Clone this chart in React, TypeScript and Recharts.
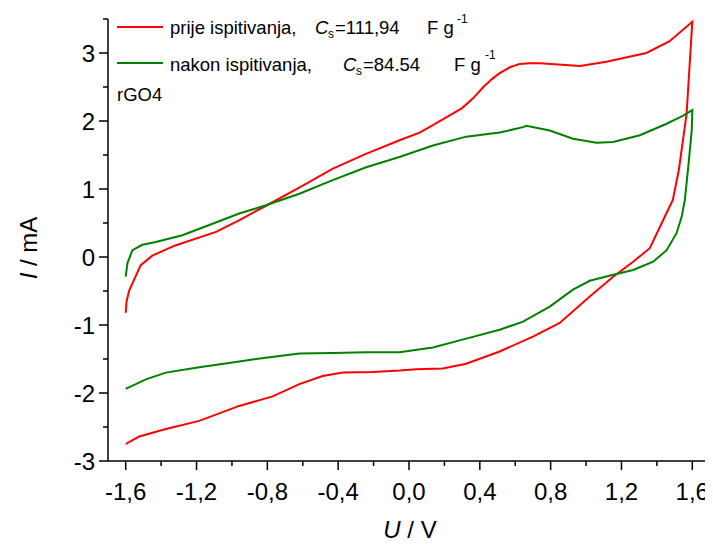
import { LineChart, Line, XAxis, YAxis, Label } from "recharts";

const redU = [
  -1.6, -1.595, -1.58, -1.515, -1.45, -1.32, -1.09, -0.96, -0.81, -0.62, -0.43, -0.24, -0.05, 0.06, 0.135,
  0.3, 0.36, 0.42, 0.47, 0.51, 0.57, 0.625, 0.68, 0.74, 0.965, 1.115, 1.34, 1.47, 1.6,
  1.568, 1.524, 1.49, 1.435, 1.36, 1.266, 1.153, 1.021, 0.851, 0.7, 0.512, 0.323, 0.191, 0.04, -0.054,
  -0.205, -0.374, -0.488, -0.619, -0.77, -0.959, -1.185, -1.373, -1.524, -1.6,
];
const redI = [
  -0.82, -0.65, -0.49, -0.12, 0.02, 0.17, 0.37, 0.54, 0.75, 1.02, 1.3, 1.52, 1.72, 1.83, 1.94,
  2.19, 2.33, 2.5, 2.62, 2.7, 2.79, 2.84, 2.85, 2.85, 2.81, 2.87, 3.0, 3.17, 3.46,
  2.11, 1.28, 0.84, 0.54, 0.13, -0.07, -0.29, -0.58, -0.97, -1.17, -1.39, -1.57, -1.64, -1.65, -1.67,
  -1.69, -1.7, -1.75, -1.87, -2.05, -2.19, -2.41, -2.53, -2.64, -2.75,
];
const greenU = [
  -1.6, -1.59, -1.562, -1.506, -1.43, -1.28, -1.128, -0.959, -0.808, -0.619, -0.431, -0.242, -0.054, 0.135,
  0.323, 0.512, 0.644, 0.663, 0.795, 0.926, 1.059, 1.153, 1.304, 1.455, 1.549, 1.6,
  1.597, 1.58, 1.558, 1.54, 1.511, 1.455, 1.379, 1.266, 1.153, 1.021, 0.926, 0.795, 0.644, 0.512, 0.323,
  0.135, -0.054, -0.242, -0.431, -0.619, -0.808, -0.997, -1.185, -1.373, -1.486, -1.6,
];
const greenI = [
  -0.29, -0.09, 0.1, 0.18, 0.22, 0.32, 0.47, 0.64, 0.76, 0.93, 1.13, 1.32, 1.47, 1.64,
  1.77, 1.83, 1.91, 1.93, 1.86, 1.74, 1.68, 1.69, 1.79, 1.96, 2.08, 2.16,
  1.87, 1.4, 0.84, 0.59, 0.35, 0.1, -0.07, -0.19, -0.26, -0.35, -0.48, -0.73, -0.95, -1.07, -1.2,
  -1.33, -1.4, -1.4, -1.41, -1.42, -1.48, -1.55, -1.62, -1.7, -1.8, -1.94,
];

const xMajor = [-1.6, -1.2, -0.8, -0.4, 0, 0.4, 0.8, 1.2, 1.6];
const xMinor = [-1.4, -1.0, -0.6, -0.2, 0.2, 0.6, 1.0, 1.4];
const yMajor = [-3, -2, -1, 0, 1, 2, 3];
const yMinor = [-2.5, -1.5, -0.5, 0.5, 1.5, 2.5, 3.5];

const redData = redU.map((u, i) => ({ u, i: redI[i] }));
const greenData = greenU.map((u, i) => ({ u, i: greenI[i] }));

const FONT = "Arial, 'Liberation Sans', sans-serif";
const RED = "#ff0000";
const GREEN = "#008000";

const isMajor = (list: number[], v: number) => list.some((m) => Math.abs(m - v) < 1e-6);

const XTick = (props: any) => {
  const { x, y, payload } = props;
  const major = isMajor(xMajor, payload.value);
  return (
    <g>
      <line x1={x} x2={x} y1={y} y2={y + (major ? 9 : 5)} stroke="#000" strokeWidth={1.5} />
      {major && (
        <text x={x} y={y + 39} textAnchor="middle" fontSize={24} fontFamily={FONT} fill="#000">
          {payload.value.toFixed(1).replace(".", ",")}
        </text>
      )}
    </g>
  );
};

const YTick = (props: any) => {
  const { x, y, payload } = props;
  const major = isMajor(yMajor, payload.value);
  return (
    <g>
      <line x1={x} x2={x - (major ? 9 : 5)} y1={y} y2={y} stroke="#000" strokeWidth={1.5} />
      {major && (
        <text x={x - 13} y={y + 8.5} textAnchor="end" fontSize={24} fontFamily={FONT} fill="#000">
          {payload.value}
        </text>
      )}
    </g>
  );
};

export default function App() {
  return (
    <div style={{ position: "relative", width: 705, height: 536 }}>
      <LineChart width={705} height={536} margin={{ top: 11, right: 3, left: 0, bottom: 0 }}>
        <XAxis
          type="number"
          dataKey="u"
          domain={[-1.7, 1.7]}
          ticks={[...xMajor, ...xMinor].sort((a, b) => a - b)}
          tick={XTick}
          tickLine={false}
          tickSize={0}
          tickMargin={0}
          height={83}
          axisLine={{ stroke: "#000", strokeWidth: 1.5 }}
          allowDataOverflow
        >
          <Label
            content={({ viewBox }: any) => (
              <text
                x={viewBox.x + viewBox.width / 2 + 1}
                y={viewBox.y + 77}
                textAnchor="middle"
                fontSize={24}
                fontFamily={FONT}
                fill="#000"
              >
                <tspan fontStyle="italic">U</tspan>
                <tspan> / V</tspan>
              </text>
            )}
          />
        </XAxis>
        <YAxis
          type="number"
          dataKey="i"
          domain={[-3, 3.5]}
          ticks={[...yMajor, ...yMinor].sort((a, b) => a - b)}
          tick={YTick}
          tickLine={false}
          tickSize={0}
          tickMargin={0}
          width={100}
          axisLine={{ stroke: "#000", strokeWidth: 1.5 }}
          allowDataOverflow
        >
          <Label
            content={({ viewBox }: any) => {
              const cx = 20;
              const cy = viewBox.y + viewBox.height / 2 + 8;
              return (
                <text
                  x={cx}
                  y={cy}
                  transform={`rotate(-90 ${cx} ${cy})`}
                  textAnchor="middle"
                  dominantBaseline="central"
                  fontSize={24}
                  fontFamily={FONT}
                  fill="#000"
                >
                  <tspan fontStyle="italic">I</tspan>
                  <tspan> / mA</tspan>
                </text>
              );
            }}
          />
        </YAxis>
        <Line
          data={redData}
          dataKey="i"
          type="linear"
          stroke={RED}
          strokeWidth={2}
          dot={false}
          isAnimationActive={false}
        />
        <Line
          data={greenData}
          dataKey="i"
          type="linear"
          stroke={GREEN}
          strokeWidth={2}
          dot={false}
          isAnimationActive={false}
        />
      </LineChart>
      <svg
        width={705}
        height={536}
        style={{ position: "absolute", left: 0, top: 0, pointerEvents: "none" }}
        fontFamily={FONT}
        fill="#000"
      >
        <line x1={109} x2={155} y1={19} y2={19} stroke={RED} strokeWidth={2} />
        <text x={162} y={26} fontSize={18.5}>prije ispitivanja,</text>
        <text x={307} y={26} fontSize={18.5} fontStyle="italic">C</text>
        <text x={320} y={30} fontSize={12}>s</text>
        <text x={327} y={26} fontSize={18.5}>=111,94</text>
        <text x={419} y={26} fontSize={18.5}>F g</text>
        <text x={449} y={15} fontSize={12}>-1</text>

        <line x1={109} x2={155} y1={55} y2={55} stroke={GREEN} strokeWidth={2} />
        <text x={162} y={63} fontSize={18.5}>nakon ispitivanja,</text>
        <text x={335} y={63} fontSize={18.5} fontStyle="italic">C</text>
        <text x={348} y={67} fontSize={12}>s</text>
        <text x={355} y={63} fontSize={18.5}>=84.54</text>
        <text x={446} y={63} fontSize={18.5}>F g</text>
        <text x={477} y={51} fontSize={12}>-1</text>

        <text x={109} y={93} fontSize={18.5}>rGO4</text>
      </svg>
    </div>
  );
}
